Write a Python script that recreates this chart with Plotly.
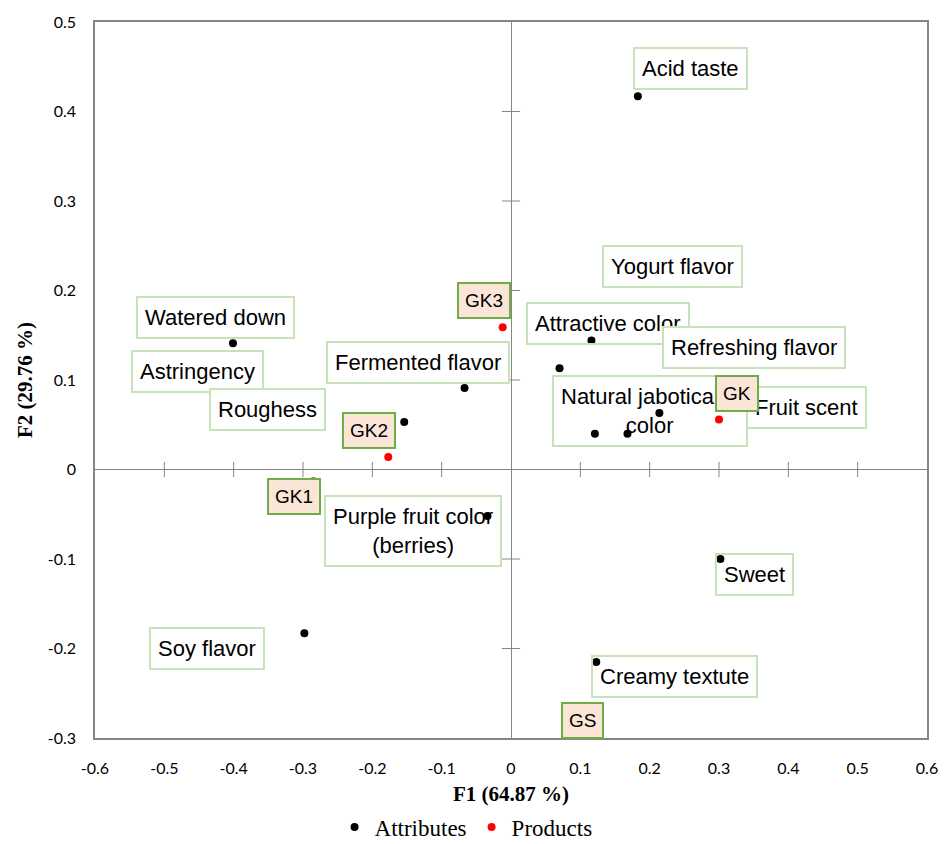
import plotly.graph_objects as go

# ---- data ----
attr_names = ["Acid taste", "Yogurt flavor", "Watered down", "Attractive color",
              "Refreshing flavor", "Fermented flavor", "Astringency", "Roughess",
              "Natural jaboticaba<br>color", "Fruit scent",
              "Purple fruit color<br>(berries)", "Sweet", "Soy flavor", "Creamy textute"]
attr_f1 = [0.183, 0.070, -0.401, 0.116, 0.214, -0.067, -0.154, -0.292,
           0.121, 0.168, -0.034, 0.302, -0.298, 0.123]
attr_f2 = [0.417, 0.113, 0.141, 0.144, 0.063, 0.091, 0.053, 0.081,
           0.040, 0.040, -0.052, -0.100, -0.183, -0.215]

prod_names = ["GK3", "GK2", "GK1", "GK", "GS"]
prod_f1 = [-0.012, -0.177, -0.285, 0.300, 0.125]
prod_f2 = [0.159, 0.014, -0.013, 0.056, -0.295]

xtick_vals = [-0.6, -0.5, -0.4, -0.3, -0.2, -0.1, 0, 0.1, 0.2, 0.3, 0.4, 0.5, 0.6]
xtick_text = ["-0.6", "-0.5", "-0.4", "-0.3", "-0.2", "-0.1", "0", "0.1", "0.2",
              "0.3", "0.4", "0.5", "0.6"]
ytick_vals = [-0.3, -0.2, -0.1, 0, 0.1, 0.2, 0.3, 0.4, 0.5]
ytick_text = ["-0.3", "-0.2", "-0.1", "0", "0.1", "0.2", "0.3", "0.4", "0.5"]

# ---- label placement (pixel offsets from each point; layout only) ----
attr_shift = [(52.5, 27.5), (112.5, 101.5), (-17, 26), (16.7, 16.7), (94.5, 66),
              (-47, 26), (-207, 51), (-41, -12.5), (55, 23), (179.5, 26.5),
              (-74.5, -15), (34.5, -15), (-97, -15.5), (78, -15)]
attr_opaque = [True, True, True, False, True, True, True, True, False, True,
               False, False, True, False]
prod_shift = [(-19, 26.5), (-19, 26.5), (-19, -15.5), (18, 26), (-15.5, 13)]

AXIS_GREY = "#868686"

fig = go.Figure()

fig.add_trace(go.Scatter(
    x=attr_f1, y=attr_f2, mode="markers", name="Attributes",
    marker=dict(color="black", size=8), hoverinfo="skip"))
fig.add_trace(go.Scatter(
    x=prod_f1, y=prod_f2, mode="markers", name="Products",
    marker=dict(color="#ff0000", size=8), hoverinfo="skip"))

# cross tick marks on the zero lines
inner_x = [v for v in xtick_vals if v not in (0, -0.6, 0.6)]
inner_y = [v for v in ytick_vals if v not in (0, -0.3, 0.5)]
fig.add_trace(go.Scatter(
    x=inner_x, y=[0] * len(inner_x), mode="markers", showlegend=False,
    hoverinfo="skip",
    marker=dict(symbol="line-ns", size=11, line=dict(color=AXIS_GREY, width=1))))
fig.add_trace(go.Scatter(
    x=[0] * len(inner_y), y=inner_y, mode="markers", showlegend=False,
    hoverinfo="skip",
    marker=dict(symbol="line-ew", size=13, line=dict(color=AXIS_GREY, width=1))))

annotations = []
for name, x, y, (dx, dy), opaque in zip(attr_names, attr_f1, attr_f2, attr_shift, attr_opaque):
    annotations.append(dict(
        x=x, y=y, xref="x", yref="y", text=name, showarrow=False,
        xshift=dx, yshift=dy, xanchor="center", yanchor="middle", align="center",
        font=dict(family="Liberation Sans, Arial", size=22, color="black"),
        bgcolor="white" if opaque else "rgba(255,255,255,0)",
        bordercolor="#c9e3b9", borderwidth=2, borderpad=7))
for name, x, y, (dx, dy) in zip(prod_names, prod_f1, prod_f2, prod_shift):
    annotations.append(dict(
        x=x, y=y, xref="x", yref="y", text=name, showarrow=False,
        xshift=dx, yshift=dy, xanchor="center", yanchor="middle", align="center",
        font=dict(family="Liberation Sans, Arial", size=19, color="black"),
        bgcolor="#fbe5d6", bordercolor="#70ad47", borderwidth=2, borderpad=6))

tick_font = dict(family="Lato, Calibri, sans-serif", size=16, color="black")
title_font = dict(family="Liberation Serif, serif", size=21, color="black", weight="bold")

fig.update_layout(
    width=950, height=844,
    margin=dict(l=95, r=23, t=22, b=106),
    paper_bgcolor="white", plot_bgcolor="white",
    showlegend=True,
    legend=dict(orientation="h", xref="paper", x=0.446, xanchor="center",
                yref="container", y=0.02, yanchor="middle",
                font=dict(family="Liberation Serif, serif", size=23, color="black"),
                itemwidth=30, bgcolor="rgba(0,0,0,0)"),
    annotations=annotations,
    xaxis=dict(range=[-0.6, 0.6], tickvals=xtick_vals, ticktext=xtick_text,
               showgrid=False, zeroline=True, zerolinecolor=AXIS_GREY, zerolinewidth=1,
               showline=True, mirror=True, linecolor=AXIS_GREY, linewidth=1.5,
               ticks="outside", ticklen=15, tickcolor="rgba(0,0,0,0)",
               tickfont=tick_font, automargin=False,
               title=dict(text="F1 (64.87 %)", font=title_font, standoff=18)),
    yaxis=dict(range=[-0.3, 0.5], tickvals=ytick_vals, ticktext=ytick_text,
               showgrid=False, zeroline=True, zerolinecolor=AXIS_GREY, zerolinewidth=1,
               showline=True, mirror=True, linecolor=AXIS_GREY, linewidth=1.5,
               ticks="outside", ticklen=14, tickcolor="rgba(0,0,0,0)",
               tickfont=tick_font, automargin=False,
               title=dict(text="F2 (29.76 %)", font=title_font, standoff=9)),
)

fig.write_html("out.html", config={"displayModeBar": False},
               post_script="document.body.style.margin='0';")
